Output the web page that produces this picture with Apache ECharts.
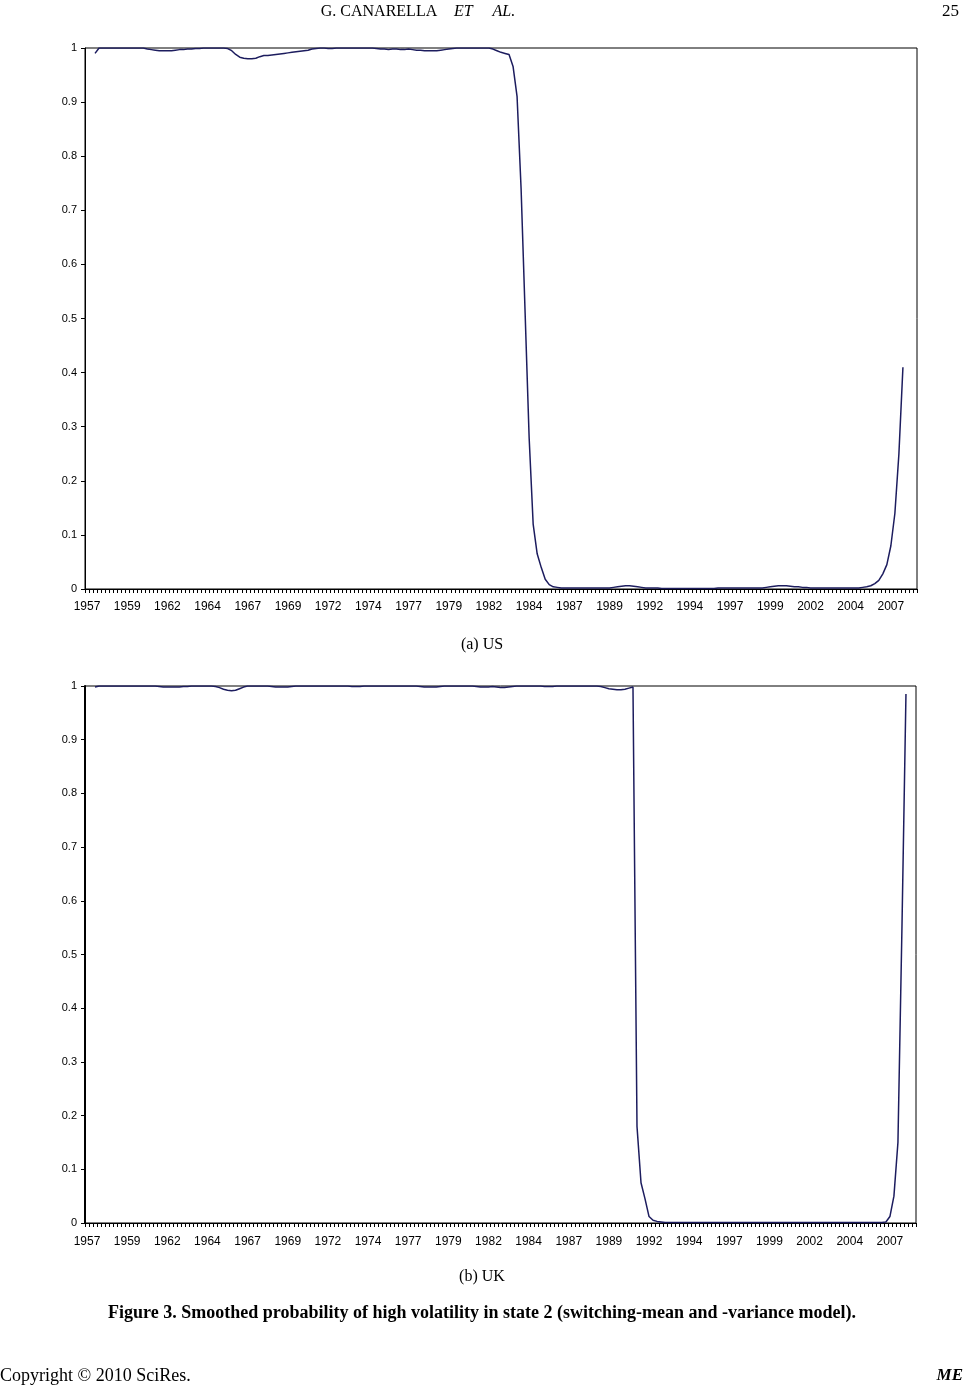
<!DOCTYPE html>
<html>
<head>
<meta charset="utf-8">
<script src="https://cdn.jsdelivr.net/npm/echarts@6/dist/echarts.min.js"></script>
<style>
  html, body { margin: 0; padding: 0; background: #fff; }
  #chart { width: 965px; height: 1386px; }
</style>
</head>
<body>
<div id="chart"></div>
<script>
// quarterly categories 1957Q1 .. 2008Q3 (207 quarters)
const quarters = []
for (let y = 1957; y <= 2008; y++) {
  for (let q = 1; q <= 4; q++) quarters.push(y + 'Q' + q)
}
quarters.length = 207

// (a) US smoothed probability, one row = 10 quarters
const usProb = [
  null, null, 0.99, 1, 1, 1, 1, 1, 1, 1,
  1, 1, 1, 1, 1, 0.998, 0.997, 0.996, 0.995, 0.995,
  0.995, 0.995, 0.996, 0.997, 0.997, 0.998, 0.998, 0.999, 0.999, 1,
  1, 1, 1, 1, 1, 0.999, 0.995, 0.988, 0.983, 0.981,
  0.98, 0.98, 0.981, 0.984, 0.986, 0.986, 0.987, 0.988, 0.989, 0.99,
  0.991, 0.992, 0.993, 0.994, 0.995, 0.996, 0.998, 0.999, 1, 1,
  0.999, 0.999, 1, 1, 1, 1, 1, 1, 1, 1,
  1, 1, 0.999, 0.998, 0.998, 0.997, 0.998, 0.998, 0.997, 0.997,
  0.998, 0.997, 0.996, 0.996, 0.995, 0.995, 0.995, 0.995, 0.996, 0.997,
  0.998, 0.999, 1, 1, 1, 1, 1, 1, 1, 1,
  1, 0.998, 0.995, 0.992, 0.99, 0.988, 0.966, 0.91, 0.74, 0.51,
  0.28, 0.12, 0.065, 0.04, 0.018, 0.008, 0.004, 0.003, 0.002, 0.002,
  0.002, 0.002, 0.002, 0.002, 0.002, 0.002, 0.002, 0.002, 0.002, 0.002,
  0.002, 0.003, 0.004, 0.005, 0.006, 0.006, 0.005, 0.004, 0.003, 0.002,
  0.002, 0.002, 0.002, 0.001, 0.001, 0.001, 0.001, 0.001, 0.001, 0.001,
  0.001, 0.001, 0.001, 0.001, 0.001, 0.001, 0.001, 0.002, 0.002, 0.002,
  0.002, 0.002, 0.002, 0.002, 0.002, 0.002, 0.002, 0.002, 0.002, 0.003,
  0.004, 0.005, 0.006, 0.006, 0.006, 0.005, 0.004, 0.004, 0.003, 0.003,
  0.002, 0.002, 0.002, 0.002, 0.002, 0.002, 0.002, 0.002, 0.002, 0.002,
  0.002, 0.002, 0.002, 0.003, 0.004, 0.006, 0.01, 0.016, 0.028, 0.045,
  0.08, 0.14, 0.25, 0.41, null, null, null
]

// (b) UK smoothed probability
const ukProb = [
  null, null, 0.998, 1, 1, 1, 1, 1, 1, 1,
  1, 1, 1, 1, 1, 1, 1, 1, 0.999, 0.998,
  0.998, 0.998, 0.998, 0.998, 0.999, 0.999, 1, 1, 1, 1,
  1, 1, 0.999, 0.997, 0.994, 0.992, 0.991, 0.992, 0.995, 0.998,
  1, 1, 1, 1, 1, 1, 0.999, 0.998, 0.998, 0.998,
  0.998, 0.999, 1, 1, 1, 1, 1, 1, 1, 1,
  1, 1, 1, 1, 1, 1, 0.999, 0.999, 0.999, 1,
  1, 1, 1, 1, 1, 1, 1, 1, 1, 1,
  1, 1, 1, 0.999, 0.998, 0.998, 0.998, 0.998, 0.999, 1,
  1, 1, 1, 1, 1, 1, 1, 0.999, 0.998, 0.998,
  0.998, 0.999, 0.998, 0.997, 0.997, 0.998, 0.999, 1, 1, 1,
  1, 1, 1, 1, 0.999, 0.999, 0.999, 1, 1, 1,
  1, 1, 1, 1, 1, 1, 1, 1, 0.999, 0.997,
  0.995, 0.994, 0.993, 0.993, 0.994, 0.996, 0.998, 0.18, 0.075, 0.045,
  0.012, 0.005, 0.003, 0.002, 0.001, 0.001, 0.001, 0.001, 0.001, 0.001,
  0.001, 0.001, 0.001, 0.001, 0.001, 0.001, 0.001, 0.001, 0.001, 0.001,
  0.001, 0.001, 0.001, 0.001, 0.001, 0.001, 0.001, 0.001, 0.001, 0.001,
  0.001, 0.001, 0.001, 0.001, 0.001, 0.001, 0.001, 0.001, 0.001, 0.001,
  0.001, 0.001, 0.001, 0.001, 0.001, 0.001, 0.001, 0.001, 0.001, 0.001,
  0.001, 0.001, 0.001, 0.001, 0.001, 0.001, 0.001, 0.001, 0.001, 0.002,
  0.012, 0.05, 0.15, 0.55, 0.985, null, null
]

const lineColor = '#1c1c5e'
const serif = '"Liberation Serif", "Times New Roman", serif'
const sans = '"Liberation Sans", Arial, sans-serif'

const chart = echarts.init(document.getElementById('chart'))

const xAxisFor = (gridIndex, margin) => ({
  type: 'category',
  gridIndex,
  data: quarters,
  boundaryGap: true,
  axisLine: { lineStyle: { color: '#000', width: 1 } },
  axisTick: { show: true, interval: 0, length: 4, lineStyle: { color: '#000' } },
  axisLabel: {
    interval: 9,
    margin,
    color: '#000',
    fontFamily: sans,
    fontSize: 12,
    formatter: v => v.slice(0, 4)
  },
  splitLine: { show: false }
})

const yAxisFor = (gridIndex, w) => ({
  type: 'value',
  gridIndex,
  min: 0,
  max: 1,
  interval: 0.1,
  axisLine: { show: true, lineStyle: { color: '#000', width: w } },
  axisTick: { show: true, length: 4, lineStyle: { color: '#000' } },
  axisLabel: { margin: 8, color: '#000', fontFamily: sans, fontSize: 11 },
  splitLine: { show: false }
})

chart.setOption({
  animation: false,
  backgroundColor: '#fff',
  grid: [
    { left: 85, top: 48, width: 832, height: 541, show: true, borderColor: '#000', borderWidth: 1 },
    { left: 85, top: 686, width: 831, height: 537, show: true, borderColor: '#000', borderWidth: 1 }
  ],
  xAxis: [xAxisFor(0, 12), xAxisFor(1, 13)],
  yAxis: [yAxisFor(0, 1), yAxisFor(1, 2)],
  series: [
    {
      name: 'US',
      type: 'line',
      xAxisIndex: 0,
      yAxisIndex: 0,
      data: usProb,
      showSymbol: false,
      lineStyle: { color: lineColor, width: 1.5 }
    },
    {
      name: 'UK',
      type: 'line',
      xAxisIndex: 1,
      yAxisIndex: 1,
      data: ukProb,
      showSymbol: false,
      lineStyle: { color: lineColor, width: 1.5 }
    }
  ],
  graphic: [
    {
      type: 'text', x: 418, y: 12,
      style: {
        text: '{n|G. CANARELLA}     {i|ET     AL.}',
        align: 'center', verticalAlign: 'middle',
        rich: {
          n: { fontFamily: serif, fontSize: 16, fill: '#000' },
          i: { fontFamily: serif, fontSize: 16, fontStyle: 'italic', fill: '#000' }
        }
      }
    },
    {
      type: 'text', x: 959, y: 12,
      style: { text: '25', align: 'right', verticalAlign: 'middle', font: '17px ' + serif, fill: '#000' }
    },
    {
      type: 'text', x: 482, y: 645,
      style: { text: '(a) US', align: 'center', verticalAlign: 'middle', font: '16px ' + serif, fill: '#000' }
    },
    {
      type: 'text', x: 482, y: 1277,
      style: { text: '(b) UK', align: 'center', verticalAlign: 'middle', font: '16px ' + serif, fill: '#000' }
    },
    {
      type: 'text', x: 482, y: 1313,
      style: {
        text: 'Figure 3. Smoothed probability of high volatility in state 2 (switching-mean and -variance model).',
        align: 'center', verticalAlign: 'middle', font: 'bold 18px ' + serif, fill: '#000'
      }
    },
    {
      type: 'text', x: 0, y: 1376,
      style: { text: 'Copyright \u00a9 2010 SciRes.', align: 'left', verticalAlign: 'middle', font: '18px ' + serif, fill: '#000' }
    },
    {
      type: 'text', x: 963, y: 1376,
      style: { text: 'ME', align: 'right', verticalAlign: 'middle', font: 'italic bold 17px ' + serif, fill: '#000' }
    }
  ]
})
</script>
</body>
</html>
